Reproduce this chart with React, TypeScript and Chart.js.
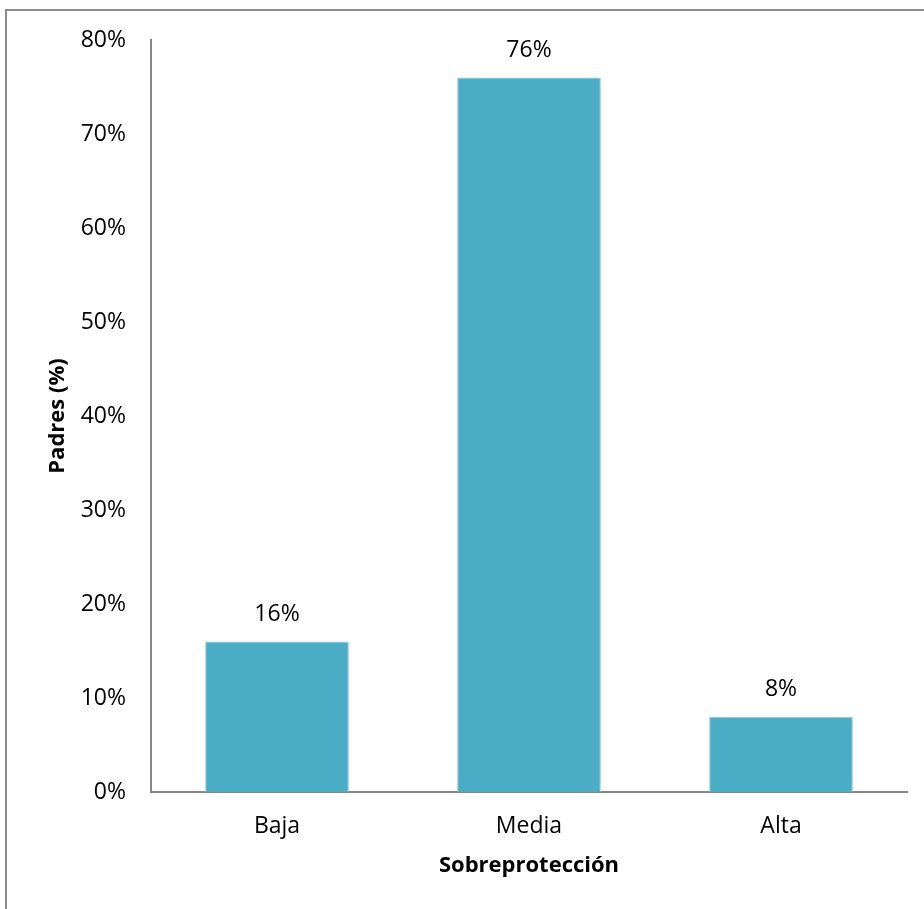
import React, { useEffect, useRef } from "react";
import { Chart, registerables } from "chart.js";

Chart.register(...registerables);

const categories = ["Baja", "Media", "Alta"];
const values = [0.16, 0.76, 0.08];
const yTicksMax = 0.8;
const yStep = 0.1;
const yTitle = "Padres (%)";
const xTitle = "Sobreprotección";

const FONT = "'Open Sans', 'Noto Sans', sans-serif";

export default function App() {
  const ref = useRef<HTMLCanvasElement | null>(null);

  useEffect(() => {
    document.body.style.margin = "0";
    const canvas = ref.current;
    if (!canvas) return;

    const labelPlugin = {
      id: "barLabels",
      afterDatasetsDraw(chart: any) {
        const { ctx } = chart;
        const meta = chart.getDatasetMeta(0);
        ctx.save();
        ctx.font = `23px ${FONT}`;
        ctx.fillStyle = "#000";
        ctx.textAlign = "center";
        ctx.textBaseline = "middle";
        meta.data.forEach((bar: any, i: number) => {
          const v = chart.data.datasets[0].data[i] as number;
          ctx.fillText(Math.round(v * 100) + "%", bar.x, bar.y - 27);
        });
        ctx.restore();
      },
    };

    const framePlugin = {
      id: "frame",
      beforeDraw(chart: any) {
        const { ctx, width, height } = chart;
        ctx.save();
        ctx.fillStyle = "#fff";
        ctx.fillRect(0, 0, width, height);
        ctx.strokeStyle = "#8c8c8c";
        ctx.lineWidth = 2;
        ctx.beginPath();
        ctx.moveTo(6, height + 2);
        ctx.lineTo(6, 10);
        ctx.lineTo(width + 2, 10);
        ctx.stroke();
        ctx.restore();
      },
    };

    const chart = new Chart(canvas, {
      type: "bar",
      data: {
        labels: categories,
        datasets: [
          {
            data: values,
            backgroundColor: "#4BACC6",
            borderColor: "#8ccbdc",
            borderWidth: 1,
            categoryPercentage: 1,
            barPercentage: 0.57,
          },
        ],
      },
      options: {
        animation: false,
        responsive: false,
        devicePixelRatio: 1,
        layout: { padding: { top: 40, right: 17, bottom: 0, left: 0 } },
        plugins: { legend: { display: false }, tooltip: { enabled: false } },
        scales: {
          x: {
            grid: { display: false, drawTicks: false },
            border: { display: true, color: "#868686", width: 2 },
            ticks: { color: "#000", font: { family: FONT, size: 23 }, padding: 21 },
            title: {
              display: true,
              text: xTitle,
              color: "#000",
              font: { family: FONT, size: 22, weight: "bold" },
              padding: { top: 0, bottom: 30 },
            },
            afterFit(scale: any) {
              scale.height = 117;
            },
          },
          y: {
            min: 0,
            max: yTicksMax,
            grid: { display: false, drawTicks: false },
            border: { display: true, color: "#868686", width: 2 },
            ticks: {
              stepSize: yStep,
              color: "#000",
              font: { family: FONT, size: 23 },
              padding: 25,
              callback: (v: any) => Math.round(Number(v) * 100) + "%",
            },
            title: {
              display: true,
              text: yTitle,
              color: "#000",
              font: { family: FONT, size: 22, weight: "bold" },
              padding: { top: 45, bottom: 0 },
            },
            afterFit(scale: any) {
              scale.width = 151;
            },
          },
        },
      },
      plugins: [framePlugin, labelPlugin],
    });

    return () => chart.destroy();
  }, []);

  return (
    <div style={{ width: 924, height: 909 }}>
      <canvas ref={ref} width={924} height={909} style={{ display: "block", width: 924, height: 909 }} />
    </div>
  );
}
